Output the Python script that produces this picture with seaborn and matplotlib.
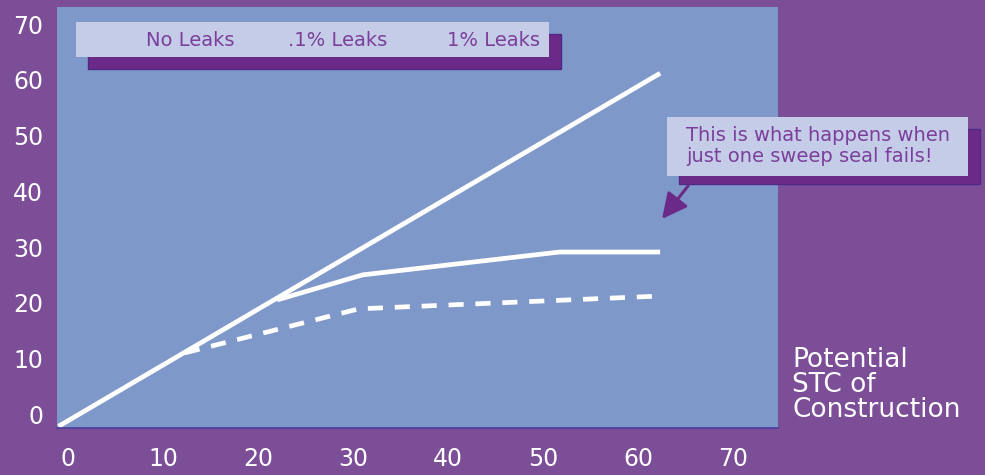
import matplotlib
matplotlib.use("Agg")
import matplotlib.pyplot as plt
from matplotlib.patches import Rectangle, FancyArrowPatch
import pandas as pd
import seaborn as sns

# ---- data ----
no_leaks_x = [-1.0, 62.3]
no_leaks_y = [-2.2, 61.2]
pt1_leaks_x = [22.0, 31.0, 51.7, 62.3]
pt1_leaks_y = [20.5, 25.0, 29.1, 29.1]
one_leaks_x = [12.3, 30.6, 62.3]
one_leaks_y = [11.0, 18.9, 21.2]
ticks = [0, 10, 20, 30, 40, 50, 60, 70]
legend_labels = ["No Leaks", ".1% Leaks", "1% Leaks"]
callout_text = "This is what happens when\njust one sweep seal fails!"
axis_title = "Potential\nSTC of\nConstruction"

BG = "#7D4E98"
PLOT = "#7F98CA"
LIGHT = "#C5CCE8"
SHADOW = "#6B2A88"
TXT = "#7B3F9B"

sns.set_style("white")
plt.rcParams["font.family"] = ["DejaVu Sans"]

W, H = 985, 475
fig = plt.figure(figsize=(W / 100, H / 100), dpi=100, facecolor=BG)

def fx(px):
    return px / W

def fy(py):
    return 1 - py / H

ax = fig.add_axes([fx(57), fy(428), fx(778) - fx(57), fy(7) - fy(428)])
ax.set_facecolor(PLOT)

df_no = pd.DataFrame({"x": no_leaks_x, "y": no_leaks_y})
df_p1 = pd.DataFrame({"x": pt1_leaks_x, "y": pt1_leaks_y})
df_1 = pd.DataFrame({"x": one_leaks_x, "y": one_leaks_y})

sns.lineplot(data=df_no, x="x", y="y", color="white", lw=3.4, ax=ax, sort=False,
             solid_capstyle="butt")
sns.lineplot(data=df_p1, x="x", y="y", color="white", lw=3.4, ax=ax, sort=False,
             solid_capstyle="butt", solid_joinstyle="miter")
sns.lineplot(data=df_1, x="x", y="y", color="white", lw=3.4, ax=ax, sort=False,
             linestyle="--")
ax.lines[-1].set_dashes([3.2, 2.5])

ax.set_xlim(-1.16, 74.7)
ax.set_ylim(-2.5, 73.1)
ax.set_xticks(ticks)
ax.set_yticks(ticks)
ax.set_xticklabels([str(t) for t in ticks])
ax.set_yticklabels([str(t) for t in ticks])
ax.tick_params(axis="both", length=0, labelsize=17, labelcolor="white")
ax.tick_params(axis="y", pad=10)
ax.tick_params(axis="x", pad=14)
ax.set_xlabel("")
ax.set_ylabel("")
for s in ["top", "right", "left"]:
    ax.spines[s].set_visible(False)
ax.spines["bottom"].set_color("#4B3C99")
ax.spines["bottom"].set_linewidth(1.2)

def rect(x0, y0, x1, y1, color, z, ec="none"):
    r = Rectangle((fx(x0), fy(y1)), fx(x1) - fx(x0), fy(y0) - fy(y1),
                  transform=fig.transFigure, facecolor=color, edgecolor=ec,
                  lw=1.0, zorder=z)
    fig.add_artist(r)

# legend box
rect(88, 34, 561, 69, SHADOW, 5, ec="#4E2A86")
rect(76, 22, 549, 57, LIGHT, 6)
for lab, cx in zip(legend_labels, [190, 338, 493]):
    fig.text(fx(cx), fy(40), lab, color=TXT, fontsize=14, ha="center",
             va="center", zorder=7)

# callout box
rect(679, 129, 980, 184, SHADOW, 5, ec="#4E2A86")
rect(667, 117, 968, 176, LIGHT, 6)
fig.text(fx(686), fy(146), callout_text, color=TXT, fontsize=14, ha="left",
         va="center", linespacing=1.12, zorder=7)

arrow = FancyArrowPatch((fx(688), fy(186)), (fx(662), fy(219)),
                        transform=fig.transFigure, arrowstyle="-|>,head_length=7,head_width=3.5",
                        color=SHADOW, lw=2.2, zorder=7, shrinkA=0, shrinkB=0,
                        mutation_scale=2.2)
fig.add_artist(arrow)

fig.text(fx(792), fy(385), axis_title, color="white", fontsize=19, ha="left",
         va="center", linespacing=0.95)

fig.savefig("out.png", dpi=100, facecolor=BG)
